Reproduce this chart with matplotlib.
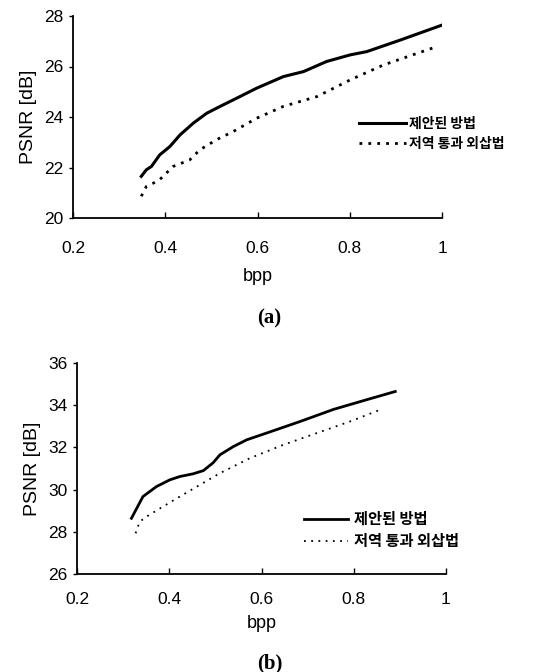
import matplotlib
matplotlib.use("Agg")
import matplotlib.pyplot as plt

# ---- data (a) ----
a_prop_x = [0.348, 0.359, 0.37, 0.388, 0.41, 0.432, 0.461, 0.49, 0.519, 0.562, 0.598, 0.656, 0.70, 0.75, 0.801, 0.837, 0.91, 1.0]
a_prop_y = [21.65, 21.91, 22.04, 22.5, 22.83, 23.29, 23.76, 24.15, 24.42, 24.81, 25.14, 25.6, 25.8, 26.2, 26.46, 26.59, 27.05, 27.64]
a_lpf_x = [0.348, 0.359, 0.374, 0.388, 0.417, 0.453, 0.475, 0.511, 0.548, 0.598, 0.656, 0.729, 0.801, 0.873, 0.946, 0.989]
a_lpf_y = [20.86, 21.25, 21.38, 21.52, 22.04, 22.3, 22.7, 23.1, 23.43, 23.95, 24.42, 24.81, 25.47, 26.06, 26.52, 26.79]

# ---- data (b) ----
b_prop_x = [0.318, 0.343, 0.372, 0.401, 0.423, 0.452, 0.474, 0.495, 0.51, 0.539, 0.568, 0.611, 0.684, 0.756, 0.828, 0.89]
b_prop_y = [28.64, 29.67, 30.14, 30.46, 30.62, 30.75, 30.9, 31.27, 31.65, 32.04, 32.36, 32.68, 33.23, 33.8, 34.26, 34.65]
b_lpf_x = [0.327, 0.336, 0.351, 0.38, 0.423, 0.466, 0.51, 0.575, 0.647, 0.72, 0.792, 0.857]
b_lpf_y = [27.93, 28.48, 28.72, 29.11, 29.67, 30.22, 30.78, 31.49, 32.12, 32.68, 33.23, 33.78]

labels = ["제안된 방법", "저역 통과 외삽법"]
x_ticks = [0.2, 0.4, 0.6, 0.8, 1.0]
x_ticklabels = ["0.2", "0.4", "0.6", "0.8", "1"]
a_yticks = [20, 22, 24, 26, 28]
b_yticks = [26, 28, 30, 32, 34, 36]

plt.rcParams['font.family'] = ['Liberation Sans', 'Noto Sans CJK KR']

fig = plt.figure(figsize=(5.39, 6.72), dpi=100)
W, H = 539, 672

def style(ax, yticks, ylim, xpad):
    ax.set_xlim(0.2, 1.0)
    ax.set_ylim(*ylim)
    ax.set_xticks(x_ticks)
    ax.set_xticklabels(x_ticklabels)
    ax.set_yticks(yticks)
    for s in ['top', 'right']:
        ax.spines[s].set_visible(False)
    for s in ['left', 'bottom']:
        ax.spines[s].set_linewidth(1.3)
    ax.tick_params(axis='x', direction='in', length=4, width=1, labelsize=12.5, pad=xpad)
    ax.tick_params(axis='y', direction='out', length=3, width=1, labelsize=12.5, pad=4)
    ax.set_ylabel("PSNR [dB]", fontsize=14, labelpad=5)

# (a)
ax1 = fig.add_axes([73 / W, 1 - 218 / H, 369 / W, 202 / H])
ax1.plot(a_prop_x, a_prop_y, color='black', lw=2.2, label=labels[0])
ax1.plot(a_lpf_x, a_lpf_y, color='black', lw=2.0, linestyle=(0, (1, 2.2)), label=labels[1])
style(ax1, a_yticks, (20, 28), 16.5)
ax1.set_xlabel("bpp", fontsize=13, labelpad=9)
ax1.legend(frameon=False, loc='center left', bbox_to_anchor=(0.775, 0.416),
           borderpad=0, borderaxespad=0, handlelength=3.4, handletextpad=0.2,
           labelspacing=0.45, prop={'family': ['Noto Sans CJK KR'], 'weight': 'bold', 'size': 10})
fig.text(0.5, 1 - 318 / H, "(a)", ha='center', va='center', family='Liberation Serif',
         fontweight='bold', fontsize=15)

# (b)
ax2 = fig.add_axes([77 / W, 1 - 574 / H, 369 / W, 211 / H])
ax2.plot(b_prop_x, b_prop_y, color='black', lw=2.0, label=labels[0])
ax2.plot(b_lpf_x, b_lpf_y, color='black', lw=1.3, linestyle=(0, (1, 3)), label=labels[1])
style(ax2, b_yticks, (26, 36), 13)
ax2.set_xlabel("bpp", fontsize=13, labelpad=6)
ax2.legend(frameon=False, loc='center left', bbox_to_anchor=(0.615, 0.2085),
           borderpad=0, borderaxespad=0, handlelength=2.9, handletextpad=0.4,
           labelspacing=0.4, prop={'family': ['Noto Sans CJK KR'], 'weight': 'bold', 'size': 11})
fig.text(0.5, 1 - 663 / H, "(b)", ha='center', va='center', family='Liberation Serif',
         fontweight='bold', fontsize=15)

fig.savefig("out.png", dpi=100)
